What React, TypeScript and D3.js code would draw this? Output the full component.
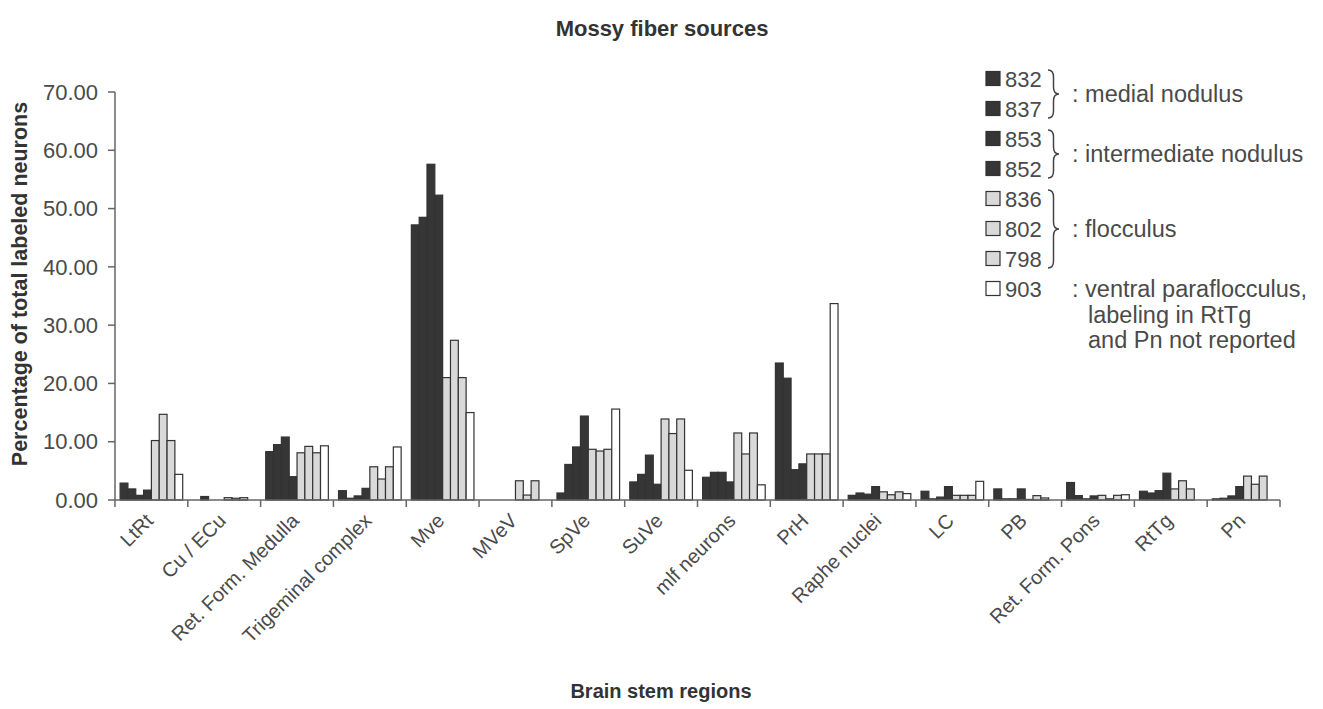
import React from "react";
import * as d3 from "d3";

const categories = ["LtRt", "Cu / ECu", "Ret. Form. Medulla", "Trigeminal complex", "Mve", "MVeV", "SpVe", "SuVe", "mlf neurons", "PrH", "Raphe nuclei", "LC", "PB", "Ret. Form. Pons", "RtTg", "Pn"];

const seriesNames = ["832", "837", "853", "852", "836", "802", "798", "903"];
const seriesGroup = ["medial", "medial", "intermediate", "intermediate", "flocculus", "flocculus", "flocculus", "ventral"];

const s832 = [2.9, 0, 8.3, 1.6, 47.2, 0, 1.2, 3.1, 3.9, 23.5, 0.8, 1.5, 1.9, 3.0, 1.5, 0.2];
const s837 = [1.9, 0.6, 9.5, 0.3, 48.5, 0, 6.1, 4.4, 4.75, 20.9, 1.2, 0.2, 0.2, 0.75, 1.2, 0.3];
const s853 = [0.8, 0, 10.8, 0.7, 57.6, 0, 9.1, 7.7, 4.75, 5.2, 1.0, 0.5, 0.2, 0.2, 1.6, 0.7];
const s852 = [1.7, 0, 4.0, 2.0, 52.3, 0, 14.4, 2.7, 3.1, 6.2, 2.3, 2.3, 1.9, 0.7, 4.6, 2.3];
const s836 = [10.2, 0.4, 8.1, 5.7, 21.0, 3.3, 8.7, 13.9, 11.5, 7.9, 1.4, 0.8, 0.1, 0.8, 1.9, 4.1];
const s802 = [14.7, 0.3, 9.2, 3.6, 27.4, 0.85, 8.4, 11.4, 7.9, 7.9, 0.9, 0.8, 0.75, 0.2, 3.3, 2.7];
const s798 = [10.2, 0.4, 8.1, 5.7, 21.0, 3.3, 8.7, 13.9, 11.5, 7.9, 1.4, 0.8, 0.35, 0.8, 1.9, 4.1];
const s903 = [4.4, 0, 9.3, 9.1, 15.0, 0, 15.6, 5.1, 2.6, 33.7, 1.1, 3.2, 0, 0.9, 0, 0];

const seriesValues = [s832, s837, s853, s852, s836, s802, s798, s903];

const yTicks = [0, 10, 20, 30, 40, 50, 60, 70];

const legendGroups = [
  { from: 0, to: 1, lines: [": medial nodulus"] },
  { from: 2, to: 3, lines: [": intermediate nodulus"] },
  { from: 4, to: 6, lines: [": flocculus"] },
  { from: 7, to: 7, lines: [": ventral paraflocculus,", "labeling in RtTg", "and Pn not reported"] },
];

const FONT = "'Liberation Sans', Arial, Helvetica, sans-serif";
const TEXT = "#4a4a4a";
const fills: Record<string, string> = { medial: "#363636", intermediate: "#363636", flocculus: "#d9d9d9", ventral: "#ffffff" };

export default function App() {
  React.useEffect(() => {
    document.body.style.margin = "0";
  }, []);

  const W = 1323, H = 709;
  const x0 = 115, x1 = 1280, yBase = 500, yTop = 92;
  const x = d3.scaleBand<string>().domain(categories).range([x0, x1]).padding(0);
  const bw = x.bandwidth();
  const xi = d3.scaleBand<string>().domain(seriesNames).range([5.1, bw - 5.1]).padding(0);
  const y = d3.scaleLinear().domain([0, 70]).range([yBase, yTop]);

  const legX = 986, legY0 = 79, legStep = 30;

  const brace = (bx: number, ya: number, yb: number) => {
    const w = 11, r = 7, ym = (ya + yb) / 2, xm = bx + w / 2;
    const p = d3.path();
    p.moveTo(bx, ya);
    p.quadraticCurveTo(xm, ya, xm, ya + r);
    p.lineTo(xm, ym - r);
    p.quadraticCurveTo(xm, ym, bx + w, ym);
    p.quadraticCurveTo(xm, ym, xm, ym + r);
    p.lineTo(xm, yb - r);
    p.quadraticCurveTo(xm, yb, bx, yb);
    return p.toString();
  };

  const boundaries = categories.map((c) => x(c)!).concat([x1]);

  return (
    <svg width={W} height={H} style={{ display: "block", background: "#fff" }} fontFamily={FONT}>
      <text x={662} y={36} textAnchor="middle" fontSize={22} fontWeight="bold" fill="#333">Mossy fiber sources</text>

      {/* bars */}
      {seriesValues.map((vals, si) => (
        <g key={seriesNames[si]}>
          {vals.map((v, ci) => (
            v > 0 ? (
              <rect
                key={ci}
                x={x(categories[ci])! + xi(seriesNames[si])!}
                y={y(v)}
                width={xi.bandwidth()}
                height={yBase - y(v)}
                fill={fills[seriesGroup[si]]}
                stroke="#333"
                strokeWidth={1.2}
              />
            ) : null
          ))}
        </g>
      ))}

      {/* y axis */}
      <line x1={x0} x2={x0} y1={yTop} y2={yBase} stroke="#666" strokeWidth={1.5} />
      {yTicks.map((t) => (
        <g key={t}>
          <line x1={x0 - 7} x2={x0} y1={y(t)} y2={y(t)} stroke="#666" strokeWidth={1.5} />
          <text x={x0 - 17} y={y(t)} dy="0.35em" textAnchor="end" fontSize={22} fill={TEXT}>{t.toFixed(2)}</text>
        </g>
      ))}

      {/* x axis */}
      <line x1={x0} x2={x1} y1={yBase} y2={yBase} stroke="#666" strokeWidth={1.5} />
      {boundaries.map((b, i) => (
        <line key={i} x1={b} x2={b} y1={yBase} y2={yBase + 7} stroke="#666" strokeWidth={1.5} />
      ))}
      {categories.map((c) => {
        const cx = x(c)! + bw / 2 + 3;
        const cy = yBase + 22;
        return (
          <text key={c} x={cx} y={cy} textAnchor="end" fontSize={20} fill={TEXT} transform={`rotate(-45 ${cx} ${cy})`}>{c}</text>
        );
      })}

      <text transform={`translate(27 284) rotate(-90)`} textAnchor="middle" fontSize={21.5} fontWeight="bold" fill="#333">Percentage of total labeled neurons</text>
      <text x={661} y={698} textAnchor="middle" fontSize={20} fontWeight="bold" fill="#333">Brain stem regions</text>

      {/* legend */}
      {seriesNames.map((n, i) => (
        <g key={n}>
          <rect x={legX} y={legY0 + i * legStep - 7.5} width={14} height={14} fill={fills[seriesGroup[i]]} stroke="#333" strokeWidth={1.2} />
          <text x={legX + 19} y={legY0 + i * legStep} dy="0.35em" fontSize={22} fill={TEXT}>{n}</text>
        </g>
      ))}
      {legendGroups.map((g, gi) => {
        const ya = legY0 + g.from * legStep - 9;
        const yb = legY0 + g.to * legStep + 9;
        const ym = (ya + yb) / 2;
        return (
          <g key={gi}>
            {g.to > g.from ? <path d={brace(1048, ya, yb)} fill="none" stroke="#444" strokeWidth={1.5} /> : null}
            {g.lines.map((l, li) => (
              <text key={li} x={li === 0 ? 1072 : 1088} y={ym + li * 25.5} dy="0.35em" fontSize={23.5} fill={TEXT}>{l}</text>
            ))}
          </g>
        );
      })}
    </svg>
  );
}
